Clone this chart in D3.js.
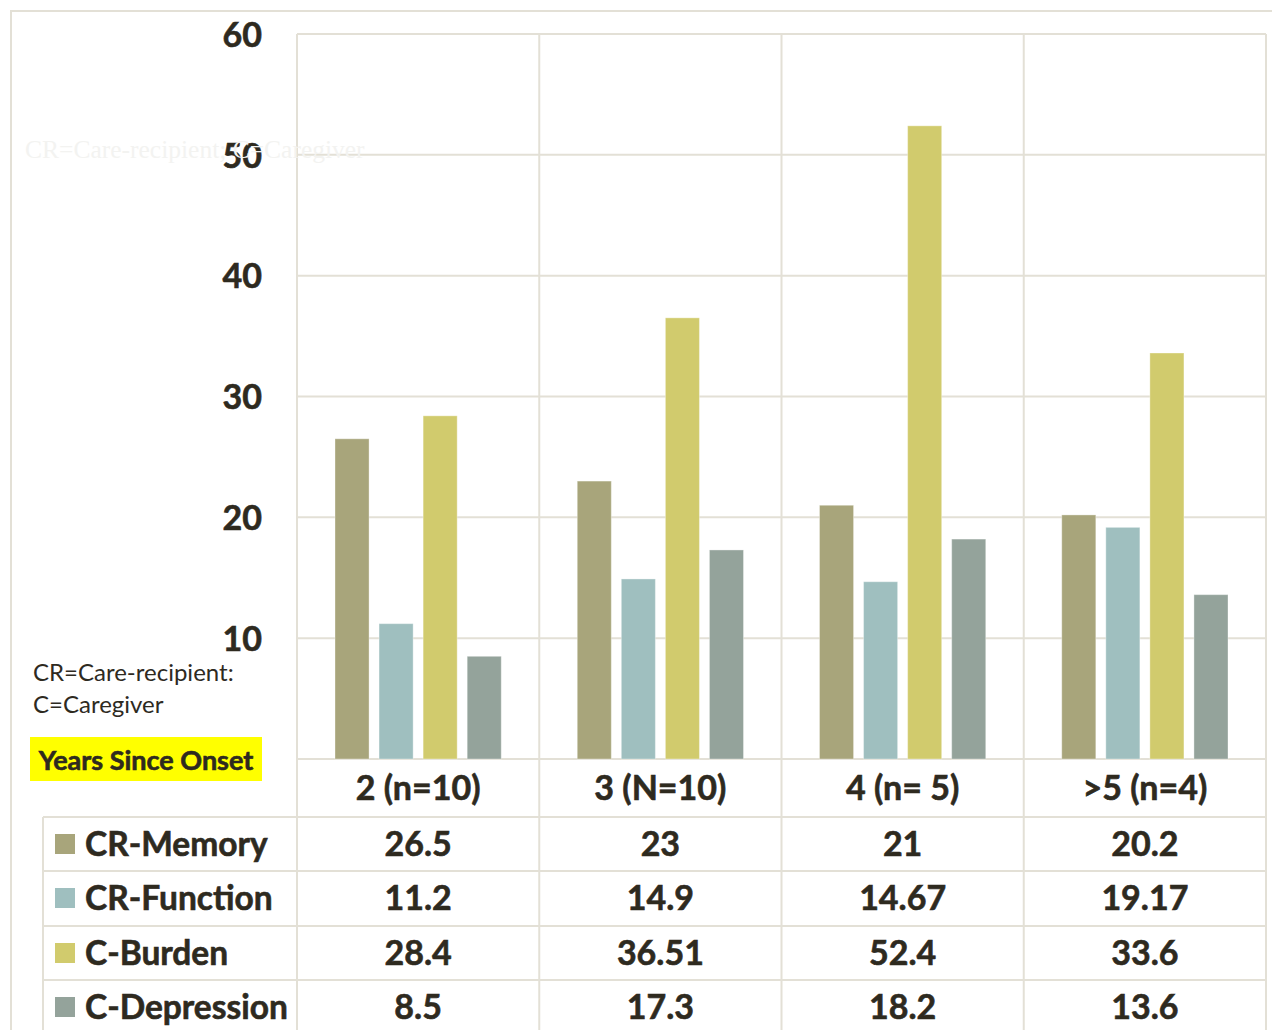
<!DOCTYPE html>
<html>
<head>
<meta charset="utf-8">
<script src="https://cdn.jsdelivr.net/npm/d3@7"></script>
<style>
  html, body { margin: 0; padding: 0; background: #ffffff; }
  svg { display: block; }
</style>
</head>
<body>
<svg id="chart" width="1272" height="1030"></svg>
<script>
// Years since onset (table columns / x categories)
const categories = ["2 (n=10)", "3 (N=10)", "4 (n= 5)", ">5 (n=4)"];
// Series names (table rows / legend)
const seriesNames = ["CR-Memory", "CR-Function", "C-Burden", "C-Depression"];
// Series values per category
const crMemory    = [26.5, 23, 21, 20.2];
const crFunction  = [11.2, 14.9, 14.67, 19.17];
const cBurden     = [28.4, 36.51, 52.4, 33.6];
const cDepression = [8.5, 17.3, 18.2, 13.6];
const seriesValues = [crMemory, crFunction, cBurden, cDepression];
// Displayed table text
const tableText = [
  ["26.5", "23", "21", "20.2"],
  ["11.2", "14.9", "14.67", "19.17"],
  ["28.4", "36.51", "52.4", "33.6"],
  ["8.5", "17.3", "18.2", "13.6"]
];
const yTicks = [10, 20, 30, 40, 50, 60];
const colors = ["#a8a57b", "#9fbfbf", "#d1cb6d", "#94a39b"];

const svg = d3.select("#chart");
const FONT = "Lato, 'Open Sans', sans-serif";
const TEXT = "#2e2a1f";
const GRID = "#e3e0d6";

// bold text helper: slightly heavier strokes
function bold(sel, size) {
  return sel.attr("font-family", FONT).attr("font-weight", "bold").attr("font-size", size)
    .attr("fill", TEXT).attr("stroke", TEXT).attr("stroke-width", 0.6);
}

const plotLeft = 297, plotRight = 1266, plotTop = 34, plotBottom = 759;
const x = d3.scaleBand().domain(categories).range([plotLeft, plotRight]).padding(0);
const y = d3.scaleLinear().domain([0, 60]).range([plotBottom, plotTop]);
const groupPad = 38;
const xs = d3.scaleBand().domain(seriesNames)
  .range([groupPad, x.bandwidth() - groupPad]).paddingInner(0.227).paddingOuter(0);

// outer frame
svg.append("path")
  .attr("d", "M11,1030 L11,11 L1272,11")
  .attr("fill", "none").attr("stroke", GRID).attr("stroke-width", 2);

// horizontal gridlines
svg.append("g").selectAll("line").data([0].concat(yTicks)).join("line")
  .attr("x1", plotLeft).attr("x2", plotRight)
  .attr("y1", d => y(d)).attr("y2", d => y(d))
  .attr("stroke", GRID).attr("stroke-width", 2);

// vertical category separators (run through the table)
const vx = categories.map(c => x(c)).concat([plotRight]);
svg.append("g").selectAll("line").data(vx).join("line")
  .attr("x1", d => d).attr("x2", d => d)
  .attr("y1", plotTop).attr("y2", 1030)
  .attr("stroke", GRID).attr("stroke-width", 2);

// y axis labels
const yAxis = d3.axisLeft(y).tickValues(yTicks).tickSize(0).tickPadding(35);
const ga = svg.append("g").attr("transform", `translate(${plotLeft},0)`).call(yAxis);
ga.select(".domain").remove();
bold(ga.selectAll("text"), 34).attr("dy", "0.36em");

// faint near-white note, layered over the axis labels
svg.append("text")
  .attr("x", 25).attr("y", 158)
  .attr("font-family", "'Liberation Serif', serif").attr("font-size", 25.5)
  .attr("fill", "#f3f3f1")
  .text("CR=Care-recipient; C=Caregiver");

// bars
const groups = svg.append("g").selectAll("g").data(categories).join("g")
  .attr("transform", d => `translate(${x(d)},0)`);
groups.selectAll("rect")
  .data((c, ci) => seriesNames.map((s, si) => ({ s, si, v: seriesValues[si][ci] })))
  .join("rect")
  .attr("x", d => xs(d.s))
  .attr("width", xs.bandwidth())
  .attr("y", d => y(d.v))
  .attr("height", d => y(0) - y(d.v))
  .attr("fill", d => colors[d.si])
  .attr("stroke", "#ffffff").attr("stroke-opacity", 0.35).attr("stroke-width", 1);

// left notes
svg.append("text").attr("x", 33).attr("y", 681)
  .attr("font-family", FONT).attr("font-size", 24).attr("fill", TEXT)
  .text("CR=Care-recipient:");
svg.append("text").attr("x", 33).attr("y", 713)
  .attr("font-family", FONT).attr("font-size", 24).attr("fill", TEXT)
  .text("C=Caregiver");
svg.append("rect").attr("x", 30).attr("y", 737).attr("width", 232).attr("height", 44)
  .attr("fill", "#ffff00");
bold(svg.append("text"), 27).attr("x", 146).attr("y", 760).attr("text-anchor", "middle")
  .attr("dy", "0.36em")
  .text("Years Since Onset");

// data table
const rowLines = [817, 871, 926, 980];
const tableLeft = 43;
svg.append("g").selectAll("line").data(rowLines).join("line")
  .attr("x1", tableLeft).attr("x2", plotRight)
  .attr("y1", d => d).attr("y2", d => d)
  .attr("stroke", GRID).attr("stroke-width", 2);
svg.append("line").attr("x1", tableLeft).attr("x2", tableLeft)
  .attr("y1", 817).attr("y2", 1030).attr("stroke", GRID).attr("stroke-width", 2);

// header row (categories)
bold(svg.append("g").selectAll("text").data(categories).join("text"), 34)
  .attr("x", d => x(d) + x.bandwidth() / 2).attr("y", 788)
  .attr("text-anchor", "middle").attr("dy", "0.36em")
  .text(d => d);

const rowCenters = [844, 898, 953, 1007];
seriesNames.forEach((s, si) => {
  const cy = rowCenters[si];
  svg.append("rect").attr("x", 55).attr("y", cy - 10).attr("width", 20).attr("height", 20)
    .attr("fill", colors[si]);
  bold(svg.append("text"), 33.5).attr("x", 85).attr("y", cy).attr("dy", "0.36em")
    .text(s);
  bold(svg.append("g").selectAll("text").data(categories).join("text"), 34)
    .attr("x", d => x(d) + x.bandwidth() / 2).attr("y", cy)
    .attr("text-anchor", "middle").attr("dy", "0.36em")
    .text((d, ci) => tableText[si][ci]);
});
</script>
</body>
</html>
